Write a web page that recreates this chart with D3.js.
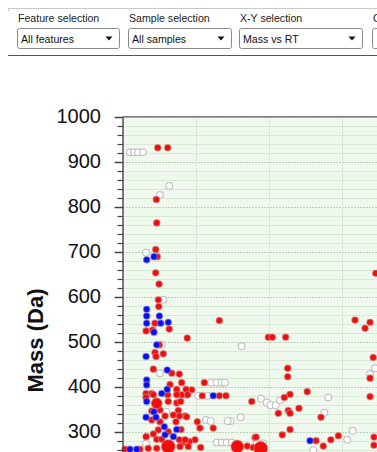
<!DOCTYPE html>
<html><head><meta charset="utf-8">
<script src="https://cdn.jsdelivr.net/npm/d3@7"></script>
<style>
html,body{margin:0;padding:0;background:#fff;overflow:hidden}
svg{display:block}
</style></head>
<body>
<script>
// ---- toolbar ----
const selectorLabels = ["Feature selection","Sample selection","X-Y selection","C"];
const selectorValues = ["All features","All samples","Mass vs RT",""];

// ---- axis ----
const massTicks = [300,400,500,600,700,800,900,1000];
const rtGrid = [0,5,10,15];

// ---- series: [RT (min), Mass (Da)] ----
const whitePoints = [
 [0.48,921],[0.75,921],[1.03,921],[1.37,921],[3.17,846],[2.53,826],[1.58,698],[2.76,593],
 [8.13,490],[2.65,493],[2.53,430],[2.95,344],[1.58,273],
 [9.45,373],[9.84,365],[10.12,359],[10.46,359],[10.75,370],[14.06,376],[13.79,342],[8.06,332],[7.37,324],
 [6.03,409],[6.42,409],[6.76,409],[6.99,409],[5.16,380],[5.80,380],[5.68,326],[6.01,324],[7.17,324],
 [6.42,276],[6.76,276],[7.10,276],[7.45,276],[15.73,302],[15.36,282],[13.03,259],[9.61,274],[9.16,275],
 [17.26,441],[16.92,428]
];
const redPoints = [
 [2.38,931],[3.06,931],[2.28,816],[2.31,764],[2.24,705],[2.35,689],[2.24,653],[2.47,628],[2.42,593],[2.45,578],
 [2.19,541],[1.58,524],[2.03,526],[3.17,528],[4.40,508],[6.60,547],[17.31,652],[15.89,548],[16.92,543],[16.58,530],
 [9.95,510],[10.23,510],[11.14,510],[17.14,465],[11.28,441],[11.28,422],[16.92,419],[12.62,389],[11.44,383],[11.05,376],
 [8.82,367],[16.92,378],[12.05,352],[11.32,347],[10.64,341],[11.44,341],[13.56,332],[11.44,305],[10.91,293],[14.75,291],
 [9.04,287],[14.23,282],[13.22,280],[13.72,268],[17.19,288],[17.19,270],[8.51,268],
 [5.57,409],[4.02,409],[4.71,393],[4.32,382],[4.02,382],[5.43,380],[6.60,380],[7.05,380],[4.25,335],[5.09,322],
 [5.27,308],[6.18,308],[3.97,305],[9.11,288],[4.93,282],[4.54,278],[4.09,276],[4.47,267],[5.32,265],[8.92,265],
 [2.49,493],[2.19,476],[2.76,473],[2.26,467],[2.08,439],[3.34,430],[3.86,428],[3.22,405],[3.68,394],[4.32,394],
 [1.58,385],[1.97,385],[2.08,382],[3.06,382],[3.68,382],[4.43,382],[1.58,376],[3.10,367],[3.68,364],[3.95,367],
 [1.97,346],[2.53,348],[3.79,347],[2.88,335],[3.45,337],[3.86,335],[1.97,326],[2.53,322],[3.63,322],[4.36,333],
 [2.42,304],[2.08,295],[3.10,300],[1.58,289],[2.31,283],[2.65,283],[3.86,282],[4.25,282],[1.73,263],[2.31,263],
 [3.90,267],[1.16,261],[0.14,261]
];
const bigRedPoints = [[2.31,363,5.5],[3.10,267,7],[7.83,267,6.5],[9.43,263,7]];
const bluePoints = [
 [2.12,689],[1.62,682],[1.62,572],[1.62,557],[2.49,557],[1.62,541],[2.58,541],[3.10,543],[2.12,521],[2.31,493],
 [1.58,467],[3.03,437],[1.62,415],[1.62,404],[3.03,394],[2.65,385],[1.62,367],[2.12,344],[1.58,332],[2.26,332],
 [2.83,311],[3.68,305],[2.88,293],[3.45,289],[0.48,261],[0.94,261],[6.18,380],[12.81,280]
];

const W = 377, H = 452;
const svg = d3.select("body").append("svg").attr("width", W).attr("height", H);

// toolbar
svg.append("line").attr("x1",8).attr("x2",W).attr("y1",8.5).attr("y2",8.5).attr("stroke","#c8c8c8");
svg.append("line").attr("x1",8.5).attr("x2",8.5).attr("y1",8.5).attr("y2",11).attr("stroke","#c8c8c8");
svg.append("line").attr("x1",8).attr("x2",W).attr("y1",55.5).attr("y2",55.5).attr("stroke","#555");
const boxX = [17,128,239,372], boxW = [102,103,123,40];
const tb = svg.append("g").attr("font-family","'Liberation Sans', Arial, sans-serif");
selectorLabels.forEach((t,i)=>{
  tb.append("text").attr("x", boxX[i]+1).attr("y", 22).attr("font-size", 10.6).attr("fill","#222").text(t);
  tb.append("rect").attr("x", boxX[i]+0.5).attr("y", 28.5).attr("width", boxW[i]).attr("height", 20)
    .attr("rx", 2).attr("fill","#fff").attr("stroke","#8a8a8a");
  tb.append("text").attr("x", boxX[i]+4).attr("y", 42.5).attr("font-size", 10.6).attr("fill","#111").text(selectorValues[i]);
  if (i < 3) {
    const ax = boxX[i] + boxW[i] - 10;
    tb.append("path").attr("d", `M${ax-3.5},36.5 L${ax+3.5},36.5 L${ax},40.5 Z`).attr("fill","#111");
  }
});

// scales
const x = d3.scaleLinear().domain([0,20]).range([123,415]);
const y = d3.scaleLinear().domain([0,1000]).range([566.7,116.7]);

const plot = svg.append("g");
plot.append("rect").attr("x", x(0)).attr("y", y(1000)).attr("width", W - x(0)).attr("height", H - y(1000)).attr("fill","#f0f9ee");

// horizontal grid every 20
const minor = d3.range(200, 1001, 20);
plot.selectAll("line.hg").data(minor).join("line")
  .attr("x1", x(0)).attr("x2", W).attr("y1", d=>Math.round(y(d))+0.5).attr("y2", d=>Math.round(y(d))+0.5)
  .attr("stroke", d => d % 100 === 0 ? "#b9d2b9" : "#d6ead4")
  .attr("stroke-width", 1)
  .attr("stroke-dasharray", d => d % 100 === 0 ? "2,1" : null);
// vertical grid
plot.selectAll("line.vg").data(rtGrid.slice(1)).join("line")
  .attr("x1", d=>Math.round(x(d))+0.5).attr("x2", d=>Math.round(x(d))+0.5).attr("y1", y(1000)).attr("y2", H)
  .attr("stroke","#c9e2c6").attr("stroke-dasharray","2,1");

// points
function dots(data, fill, stroke, r) {
  plot.append("g").selectAll("circle").data(data).join("circle")
    .attr("cx", d=>x(d[0])).attr("cy", d=>y(d[1])).attr("r", d => d[2] || r)
    .attr("fill", fill).attr("stroke", stroke).attr("stroke-width", 1.2);
}
dots(whitePoints, "#ffffff", "#c4c4c4", 3.4);
dots(redPoints, "#f20d0d", "rgba(200,150,150,0.55)", 3.3);
dots(bigRedPoints, "#f20d0d", "rgba(200,150,150,0.55)", 6);
dots(bluePoints, "#0d0df2", "rgba(150,150,200,0.55)", 3.3);

// top border
plot.append("line").attr("x1", x(0)).attr("x2", W).attr("y1", y(1000)).attr("y2", y(1000)).attr("stroke","#7a7a7a").attr("stroke-width",1.6);

// y axis
const ax = svg.append("g");
ax.append("line").attr("x1", x(0)).attr("x2", x(0)).attr("y1", y(1000)).attr("y2", H).attr("stroke","#444").attr("stroke-width",1.4);
ax.selectAll("line.t").data(minor).join("line")
  .attr("x1", d => d % 100 === 0 ? 114.5 : 117.5).attr("x2", x(0))
  .attr("y1", d=>Math.round(y(d))+0.5).attr("y2", d=>Math.round(y(d))+0.5)
  .attr("stroke","#444").attr("stroke-width", d => d % 100 === 0 ? 1.5 : 1.2);
ax.selectAll("text.l").data(massTicks).join("text")
  .attr("x", 101).attr("y", d => y(d) + 6.5).attr("text-anchor","end")
  .attr("font-family","'Liberation Sans', Arial, sans-serif").attr("font-size", 20).attr("fill","#111")
  .text(d => d);
svg.append("text").attr("transform", "translate(42.5,340.5) rotate(-90)").attr("text-anchor","middle")
  .attr("font-family","'Liberation Sans', Arial, sans-serif").attr("font-size", 22).attr("font-weight","bold").attr("fill","#111")
  .text("Mass (Da)");
</script>
</body></html>
